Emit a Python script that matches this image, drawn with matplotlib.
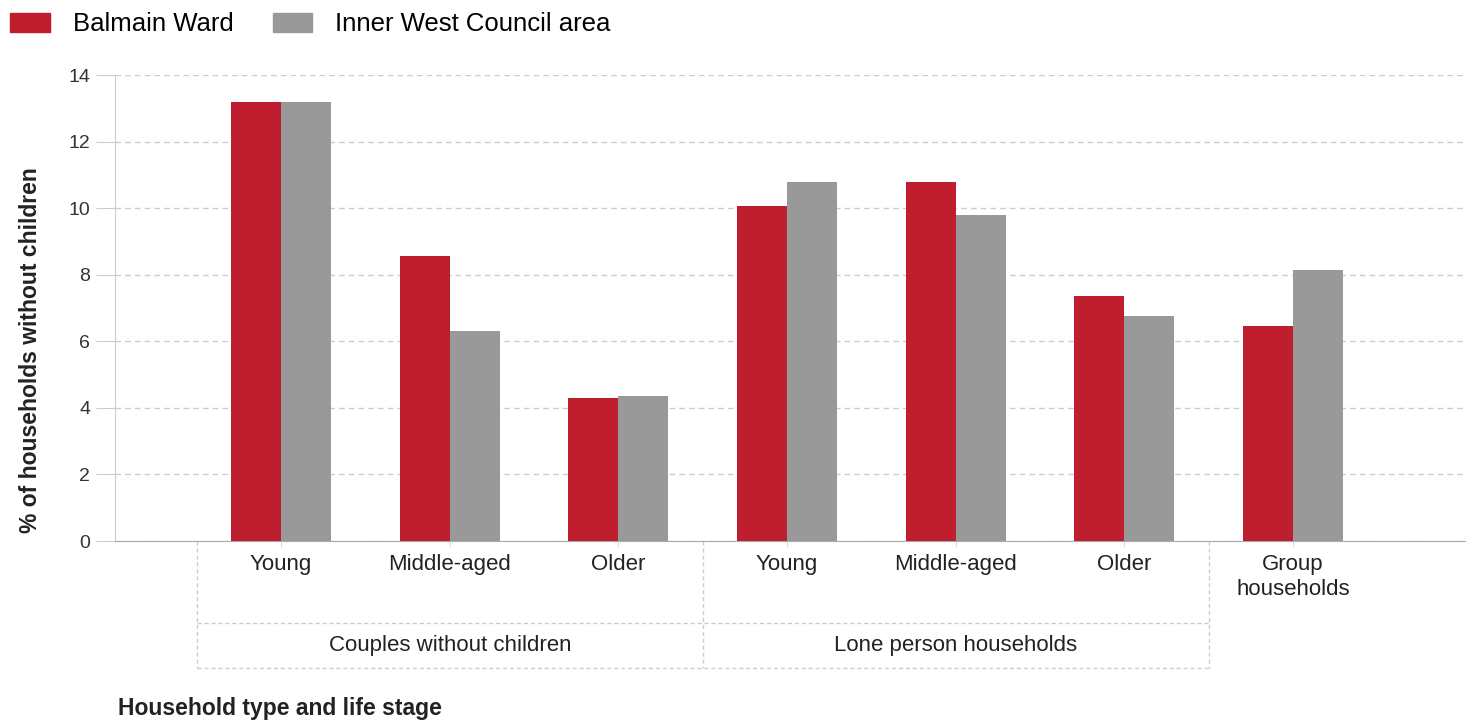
import matplotlib.pyplot as plt
import numpy as np
from matplotlib.transforms import blended_transform_factory
from matplotlib.patches import Patch

stages = ["Young", "Middle-aged", "Older", "Young", "Middle-aged", "Older", "Group\nhouseholds"]
groups = ["Couples without children", "Lone person households"]
balmain = [13.2, 8.55, 4.3, 10.05, 10.8, 7.35, 6.45]
inner_west = [13.2, 6.3, 4.35, 10.8, 9.8, 6.75, 8.15]

red = "#BE1E2D"
grey = "#999999"
font = "Liberation Sans"

fig = plt.figure(figsize=(14.7, 7.25), dpi=100)
ax = fig.add_axes([115 / 1470, 1 - 541 / 725, 1350 / 1470, 466 / 725])

x = np.arange(len(stages))
w = 0.296
ax.bar(x - w / 2, balmain, w, color=red, zorder=3)
ax.bar(x + w / 2, inner_west, w, color=grey, zorder=3)

ax.set_xlim(-0.985, 7.02)
ax.set_ylim(0, 14)
ax.set_yticks(range(0, 15, 2))
ax.grid(axis="y", color="#cccccc", linestyle=(0, (4, 3)), linewidth=1, zorder=0)
for s in ["top", "right"]:
    ax.spines[s].set_visible(False)
ax.spines["left"].set_color("#cccccc")
ax.spines["bottom"].set_color("#aaaaaa")
ax.tick_params(axis="y", length=14, color="#cccccc", labelsize=14, labelcolor="#333333", pad=4)
ax.tick_params(axis="x", length=4, color="#dddddd")
ax.set_xticks(x)
ax.set_xticklabels([])
for lbl in ax.get_yticklabels():
    lbl.set_family(font)

# category labels
trans = blended_transform_factory(ax.transData, fig.transFigure)
for xi, s in zip(x, stages):
    ax.text(xi, 1 - 554 / 725, s, transform=trans, ha="center", va="top",
            fontsize=16, family=font, color="#222222", linespacing=1.25)

# group boxes
yb0, yb1, yb2 = 1 - 541 / 725, 1 - 623 / 725, 1 - 668 / 725
box = dict(color="#cccccc", linestyle=(0, (3, 2)), linewidth=1, transform=trans, clip_on=False)
for xb in [-0.5, 2.5, 5.5]:
    ax.plot([xb, xb], [yb0, yb2], **box)
ax.plot([-0.5, 5.5], [yb1, yb1], **box)
ax.plot([-0.5, 5.5], [yb2, yb2], **box)
for i, g in enumerate(groups):
    ax.text(1 + 3 * i, (yb1 + yb2) / 2, g, transform=trans, ha="center", va="center",
            fontsize=16, family=font, color="#222222")

ax.set_ylabel("% of households without children", fontsize=16.5, fontweight="bold",
              family=font, color="#222222")
ax.yaxis.set_label_coords(-73 / 1350, 0.41)
fig.text(118 / 1470, 1 - 708 / 725, "Household type and life stage", fontsize=16.5,
         fontweight="bold", family=font, color="#222222", va="center")

handles = [Patch(color=red, label="Balmain Ward"), Patch(color=grey, label="Inner West Council area")]
fig.legend(handles=handles, loc="upper left", bbox_to_anchor=(0.0, 0.997), ncol=2, frameon=False,
           prop={"family": font, "size": 18.5}, handlelength=1.55, handleheight=0.78,
           columnspacing=1.5, handletextpad=0.9, borderaxespad=0.1, borderpad=0.3)

fig.savefig("out.png", dpi=100)
